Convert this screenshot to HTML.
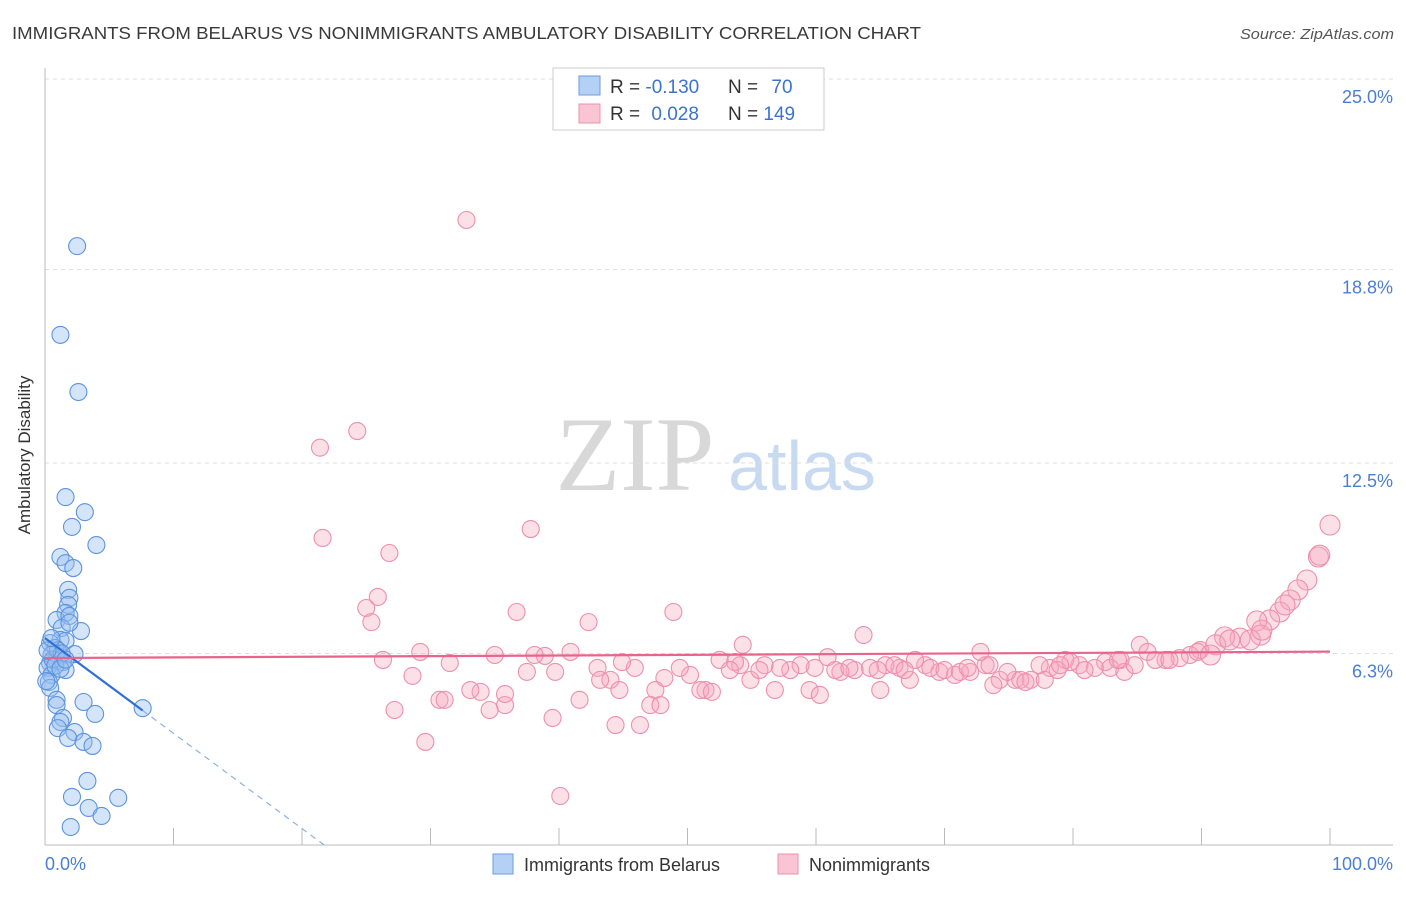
<!DOCTYPE html>
<html><head><meta charset="utf-8"><style>
body{margin:0;background:#fff;font-family:"Liberation Sans",sans-serif}
</style></head><body>
<svg width="1406" height="892" id="chart" font-family="Liberation Sans, sans-serif">
<text x="12" y="39" font-size="17.5" fill="#3a3a3a" textLength="909" lengthAdjust="spacingAndGlyphs">IMMIGRANTS FROM BELARUS VS NONIMMIGRANTS AMBULATORY DISABILITY CORRELATION CHART</text>
<text x="1394" y="39" font-size="15" fill="#555" font-style="italic" text-anchor="end" textLength="154" lengthAdjust="spacingAndGlyphs">Source: ZipAtlas.com</text>
<text x="30" y="455" font-size="17" fill="#333" text-anchor="middle" transform="rotate(-90 30 455)">Ambulatory Disability</text>
<g><text x="635" y="490" font-size="106" fill="#d8d8d8" font-family="Liberation Serif, serif" text-anchor="middle">ZIP</text><text x="802" y="490" font-size="70" fill="#c8daf2" text-anchor="middle">atlas</text></g>
<g id="grid"></g><g id="axes"></g><g id="pink"></g><g id="blue"></g><g id="trend"></g>
<g>
<rect x="553" y="68" width="271" height="62" fill="#fff" stroke="#ccc"/>
<rect x="579" y="76" width="21" height="19" fill="#b5d0f5" stroke="#6a9be0"/>
<rect x="579" y="104" width="21" height="19" fill="#f9c4d4" stroke="#ee92ad"/>
<text x="610" y="93" font-size="19" fill="#333">R = <tspan fill="#3a74d0">-0.130</tspan></text>
<text x="728" y="93" font-size="19" fill="#333">N = <tspan fill="#3a74d0" dx="8">70</tspan></text>
<text x="610" y="120" font-size="19" fill="#333">R = <tspan fill="#3a74d0" dx="6">0.028</tspan></text>
<text x="728" y="120" font-size="19" fill="#333">N = <tspan fill="#3a74d0">149</tspan></text>
</g>
<g>
<rect x="493" y="854" width="20" height="20" fill="#b5d0f5" stroke="#6a9be0"/>
<text x="524" y="871" font-size="18" fill="#333">Immigrants from Belarus</text>
<rect x="778" y="854" width="20" height="20" fill="#f9c4d4" stroke="#ee92ad"/>
<text x="809" y="871" font-size="18" fill="#333">Nonimmigrants</text>
</g>
</svg>
<script>
const yTicks=[6.3,12.5,18.8,25.0];
const yTickLabels=["6.3%","12.5%","18.8%","25.0%"];
const xTickLabels=["0.0%","100.0%"];
const blueX=[2.5,1.2,2.6,1.6,3.1,2.1,4.0,1.2,1.6,2.2,1.8,1.9,1.8,1.6,0.9,1.9,1.3,2.8,1.2,1.6,0.4,0.8,2.3,0.5,0.9,0.4,1.4,0.2,1.6,0.5,0.3,0.4,0.9,3.0,0.9,7.6,3.9,1.4,1.2,1.0,2.3,1.8,3.0,3.7,3.3,2.1,5.7,3.4,4.4,2.0,0.6,1.0,1.3,0.2,0.8,1.2,0.5,1.6,0.1,1.9];
const blueY=[19.56,16.67,14.81,11.39,10.9,10.42,9.83,9.44,9.24,9.08,8.37,8.11,7.88,7.62,7.39,7.52,7.13,7.03,6.74,6.71,6.64,6.48,6.28,6.25,6.09,5.99,6.02,5.83,5.76,5.6,5.37,5.18,4.79,4.72,4.62,4.52,4.33,4.2,4.07,3.87,3.74,3.55,3.42,3.29,2.15,1.63,1.6,1.27,1.01,0.65,6.1,6.4,6.3,6.4,5.9,5.8,6.8,6.1,5.4,7.3];
const pinkX=[32.8,21.4,24.3,21.6,26.8,37.8,25.9,25.0,25.4,36.7,48.9,42.3,63.7,54.3,100,99.1,98.2,97.5,96.9,96.1,95.3,94.3,94.6,93.0,91.8,91.1,89.9,89.1,88.3,87.2,85.2,85.8,83.7,82.5,81.7,80.5,79.4,78.2,77.4,76.7,75.5,74.3,73.2,72.8,72.0,70.8,69.6,68.5,67.3,66.5,65.4,64.2,63.0,61.9,60.9,59.9,58.8,58.0,56.8,56.0,54.9,54.1,53.7,52.5,51.4,50.2,49.4,48.2,47.5,47.1,46.3,45.9,44.9,44.4,44.0,43.0,41.6,40.9,39.7,38.9,38.1,37.5,35.8,35.0,34.6,33.9,33.1,31.5,30.7,29.2,28.6,27.2,26.3,29.6,40.1,39.5,35.8,43.2,44.7,47.9,51.0,51.9,53.3,55.6,57.2,59.5,60.3,61.5,62.6,65.0,66.1,67.7,68.9,70.0,71.2,73.8,74.9,75.9,77.8,78.8,79.8,80.9,82.9,84.0,84.8,86.4,87.5,89.7,90.7,92.2,93.8,94.7,99.2,96.5,79.0,73.5,66.9,64.8,71.8,76.3,83.5,31.1];
const pinkY=[20.41,13.0,13.54,10.06,9.57,10.35,8.14,7.78,7.32,7.65,7.65,7.32,6.9,6.58,10.48,9.44,8.69,8.37,8.04,7.65,7.39,7.36,6.9,6.8,6.84,6.58,6.41,6.25,6.15,6.09,6.58,6.35,6.09,6.02,5.83,5.92,6.09,5.83,5.92,5.44,5.44,5.44,5.92,6.35,5.7,5.6,5.7,5.92,5.44,5.83,5.92,5.83,5.76,5.7,6.18,5.83,5.92,5.76,5.11,5.92,5.44,5.92,6.02,6.09,5.11,5.6,5.83,5.5,5.11,4.62,3.97,5.83,6.02,3.97,5.44,5.83,4.79,6.35,5.7,6.22,6.25,5.7,4.62,6.25,4.46,5.05,5.11,5.99,4.79,6.35,5.57,4.46,6.09,3.42,1.66,4.2,4.98,5.44,5.11,4.62,5.11,5.05,5.76,5.76,5.83,5.11,4.95,5.76,5.83,5.11,5.92,6.09,5.83,5.76,5.7,5.27,5.7,5.44,5.44,5.76,6.02,5.76,5.83,5.7,5.92,6.09,6.09,6.35,6.25,6.74,6.74,7.06,9.5,7.88,5.92,5.92,5.76,5.76,5.83,5.37,6.09,4.79];
const blueTrend=[6.8,-0.31]; // intercept, slope
const blueSolidEnd=7.6, blueDashEnd=21.9;
const pinkTrend=[6.15,0.0021];
const X0=45,X1=1330,Y0=847,YPER=30.72;
function sx(v){return X0+(X1-X0)*v/100;}
function sy(v){return Y0-v*YPER;}
const NS="http://www.w3.org/2000/svg";
function mk(parent,tag,attrs){const e=document.createElementNS(NS,tag);for(const k in attrs)e.setAttribute(k,attrs[k]);document.getElementById(parent).appendChild(e);return e;}
yTicks.forEach((t,i)=>{
 const g=mk('grid','line',{x1:45,x2:1393,y1:sy(t),y2:sy(t),stroke:'#ddd','stroke-dasharray':'4 4'});
 
 
 const l=mk('axes','text',{x:1393,y:sy(t)+24,'font-size':18,fill:'#4a7fd4','text-anchor':'end'});
 l.textContent=yTickLabels[i];
 
 
});
let a=mk('axes','line',{x1:45,x2:45,y1:68,y2:845,stroke:'#bbb'});


a=mk('axes','line',{x1:45,x2:1393,y1:845,y2:845,stroke:'#bbb'});


for(let i=1;i<=10;i++){const t=mk('axes','line',{x1:sx(i*10),x2:sx(i*10),y1:828,y2:845,stroke:'#bbb'});
 
 }
[[0,'start',45],[100,'end',1393]].forEach((d,i)=>{const l=mk('axes','text',{x:d[2],y:870,'font-size':18,fill:'#4a7fd4','text-anchor':d[1]});l.textContent=xTickLabels[i];
 
 });
pinkX.forEach((x,i)=>{const r=x>90?10:8.5;const c=mk('pink','circle',{cx:sx(x),cy:sy(pinkY[i]),r:r,fill:'rgba(246,166,190,0.35)',stroke:'#ee8fac','stroke-width':1.1});
 
 });
blueX.forEach((x,i)=>{const c=mk('blue','circle',{cx:sx(x),cy:sy(blueY[i]),r:8.5,fill:'rgba(150,190,240,0.4)',stroke:'#5c93de','stroke-width':1.1});
 
 });
const bt=v=>blueTrend[0]+blueTrend[1]*v, pt=v=>pinkTrend[0]+pinkTrend[1]*v;
let l=mk('trend','line',{x1:sx(0),y1:sy(bt(0)),x2:sx(blueSolidEnd),y2:sy(bt(blueSolidEnd)),stroke:'#2f6fd6','stroke-width':2.2});


l=mk('trend','line',{x1:sx(blueSolidEnd),y1:sy(bt(blueSolidEnd)),x2:sx(blueDashEnd),y2:sy(bt(blueDashEnd)),stroke:'#8ab0e6','stroke-width':1.2,'stroke-dasharray':'6 5'});


l=mk('trend','line',{x1:sx(0),y1:sy(pt(0)),x2:sx(100),y2:sy(pt(100)),stroke:'#e8648c','stroke-width':2.2});


</script>
</body></html>
